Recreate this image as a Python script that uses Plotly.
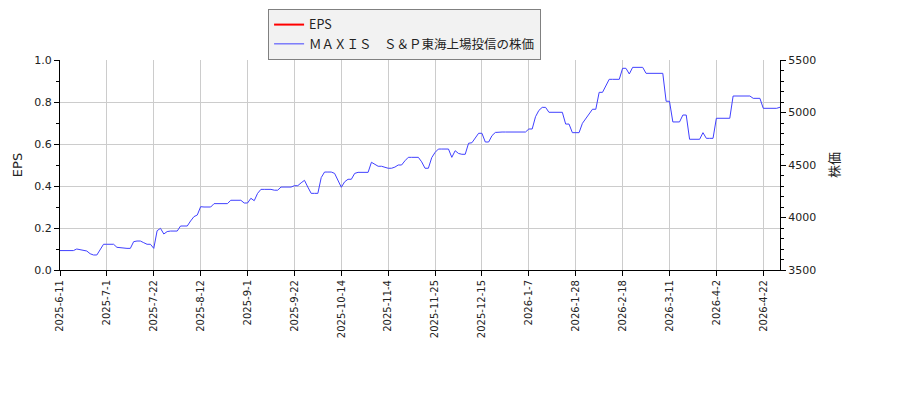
import pandas as pd
import plotly.graph_objects as go
from plotly.subplots import make_subplots

# market holidays (plus one day with no quote) between the first and last date
holidays = ['2025-07-21', '2025-08-11', '2025-09-15', '2025-09-23', '2025-10-13',
            '2025-11-03', '2025-11-24', '2025-12-31', '2026-01-01', '2026-01-02',
            '2026-01-12', '2026-02-11', '2026-02-23', '2026-03-20', '2026-03-31',
            '2026-04-29']

# closing price of the fund, one value per trading day
price = [3685, 3685, 3685, 3685, 3685, 3700, 3692, 3683, 3681, 3655,
         3643, 3643, 3700, 3745, 3745, 3745, 3745, 3716, 3712, 3706,
         3706, 3706, 3770, 3776, 3776, 3760, 3745, 3745, 3706, 3874,
         3897, 3843, 3866, 3871, 3871, 3871, 3919, 3919, 3919, 3967,
         4008, 4024, 4103, 4100, 4100, 4100, 4132, 4132, 4132, 4132,
         4132, 4164, 4164, 4164, 4164, 4138, 4138, 4183, 4160, 4230,
         4268, 4268, 4268, 4268, 4260, 4260, 4290, 4290, 4290, 4290,
         4303, 4303, 4330, 4354, 4290, 4230, 4230, 4230, 4380, 4433,
         4433, 4433, 4420, 4350, 4288, 4340, 4364, 4364, 4420, 4430,
         4430, 4430, 4430, 4526, 4510, 4488, 4488, 4480, 4469, 4469,
         4480, 4500, 4500, 4540, 4573, 4573, 4573, 4573, 4530, 4469,
         4469, 4570, 4620, 4652, 4652, 4652, 4652, 4573, 4636, 4610,
         4602, 4602, 4707, 4712, 4760, 4802, 4802, 4719, 4719, 4780,
         4810, 4814, 4814, 4814, 4814, 4814, 4814, 4814, 4814, 4814,
         4843, 4843, 4960, 5020, 5049, 5049, 5002, 5002, 5002, 5002,
         5002, 4890, 4890, 4808, 4808, 4808, 4897, 4940, 4976, 5031,
         5031, 5192, 5192, 5250, 5316, 5316, 5316, 5316, 5421, 5421,
         5367, 5430, 5430, 5430, 5430, 5373, 5373, 5373, 5373, 5373,
         5373, 5107, 5107, 4910, 4910, 4910, 4976, 4976, 4745, 4745,
         4745, 4745, 4808, 4754, 4754, 4754, 4945, 4945, 4945, 4945,
         4945, 5157, 5157, 5157, 5157, 5157, 5157, 5135, 5135, 5135,
         5040, 5040, 5040, 5040, 5040, 5050]

# no EPS figures are published for this fund
eps = [None]

stock_name = 'ＭＡＸＩＳ　Ｓ＆Ｐ東海上場投信の株価'


def get_dates(start, n):
    '''Trading days from start, formatted like 2025-6-11'''
    days = pd.bdate_range(start, periods=n + 40)
    days = [d for d in days if d.strftime('%Y-%m-%d') not in holidays][:n]
    return [f'{d.year}-{d.month}-{d.day}' for d in days]


dates = get_dates('2025-06-11', len(price))
tick_dates = dates[::14]

font = "DejaVu Sans, Noto Sans CJK JP, sans-serif"

fig = make_subplots(specs=[[{"secondary_y": True}]])

fig.add_trace(
    go.Scatter(x=dates[:len(eps)], y=eps, name="EPS", mode="lines",
               line=dict(color="#ff0000", width=2), showlegend=True),
    secondary_y=False,
)
fig.add_trace(
    go.Scatter(x=dates, y=price, name=stock_name, mode="lines",
               line=dict(color="#4040ff", width=1)),
    secondary_y=True,
)

# the page body adds 8px, so the margins are 8px smaller than the drawn offsets
fig.update_layout(
    width=900, height=400,
    margin=dict(l=52, r=128, t=52, b=138, autoexpand=False),
    paper_bgcolor="white", plot_bgcolor="white",
    font=dict(family=font, size=11, color="#222222"),
    showlegend=True,
    legend=dict(x=0.289, y=1.243, xanchor="left", yanchor="top",
                bgcolor="#f2f2f2", bordercolor="#808080", borderwidth=1,
                font=dict(family="Noto Sans CJK JP, DejaVu Sans", size=12.5, color="#222222"),
                itemwidth=30, tracegroupgap=0),
)

# x axis: one label every 14 trading days
fig.update_xaxes(
    type="category", categoryorder="array", categoryarray=dates,
    range=[0, len(dates) - 1], domain=[0, 1],
    tickmode="array", tickvals=tick_dates, ticktext=tick_dates,
    tickangle=-90, ticks="outside", ticklen=5, tickcolor="black",
    showline=True, linecolor="black", linewidth=1,
    showgrid=True, gridcolor="#cccccc", gridwidth=1,
    zeroline=False, tickfont=dict(size=10), automargin=False,
)

# left axis: EPS
fig.update_yaxes(
    title_text="EPS", range=[0, 1.0], dtick=0.2, tickformat=".1f",
    ticks="outside", ticklen=5, tickcolor="black",
    minor=dict(dtick=0.1, ticks="outside", ticklen=3, tickcolor="black", showgrid=False),
    showline=True, linecolor="black", linewidth=1,
    showgrid=True, gridcolor="#cccccc", zeroline=False,
    title_standoff=8, automargin=True,
    secondary_y=False,
)

# right axis: price
fig.update_yaxes(
    title_text="株価", range=[3500, 5500], dtick=500,
    ticks="outside", ticklen=5, tickcolor="black",
    minor=dict(dtick=100, ticks="outside", ticklen=3, tickcolor="black", showgrid=False),
    showline=True, linecolor="black", linewidth=1,
    showgrid=False, zeroline=False,
    title_standoff=14, automargin=False,
    secondary_y=True,
)

fig.write_html("out.html")
